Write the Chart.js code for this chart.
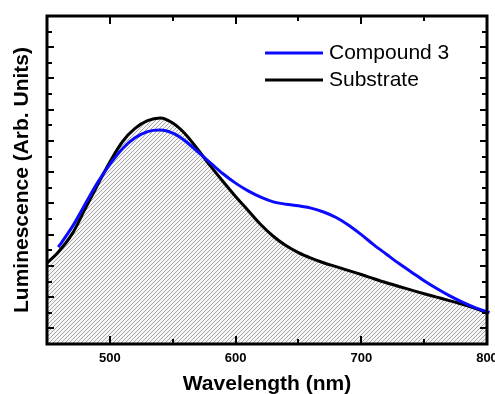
<!DOCTYPE html>
<html>
<head>
<meta charset="utf-8">
<script src="https://cdn.jsdelivr.net/npm/chart.js@4/dist/chart.umd.min.js"></script>
<style>
  html, body { margin: 0; padding: 0; background: #fff; }
</style>
</head>
<body>
<canvas id="chart" width="495" height="394"></canvas>
<script>
// values (wavelength in nm, luminescence in arb. units)
const substrateWavelength = [450, 458, 470, 480, 490, 500, 510, 520, 530, 540, 550, 560, 570, 580, 590, 600, 610, 620, 630, 640, 650, 660, 670, 680, 690, 700, 710, 720, 730, 740, 750, 760, 770, 780, 790, 800];
const substrateValues = [5.2, 5.8, 7.05, 8.6, 10.15, 11.65, 12.95, 13.8, 14.3, 14.47, 14.15, 13.45, 12.45, 11.4, 10.4, 9.45, 8.55, 7.65, 6.9, 6.3, 5.85, 5.5, 5.2, 4.95, 4.7, 4.45, 4.18, 3.92, 3.68, 3.45, 3.22, 3.0, 2.78, 2.55, 2.3, 2.0];
const compoundWavelength = [459, 470, 480, 490, 500, 510, 520, 530, 540, 550, 560, 570, 580, 590, 600, 610, 620, 630, 640, 650, 660, 670, 680, 690, 700, 710, 720, 730, 740, 750, 760, 770, 780, 790, 802];
const compoundValues = [6.2, 7.5, 8.9, 10.3, 11.5, 12.5, 13.2, 13.6, 13.7, 13.5, 13.0, 12.3, 11.6, 10.9, 10.3, 9.8, 9.4, 9.1, 8.95, 8.85, 8.7, 8.45, 8.1, 7.6, 7.0, 6.35, 5.75, 5.15, 4.6, 4.05, 3.55, 3.1, 2.7, 2.35, 2.0];
const seriesLabels = ['Compound 3', 'Substrate'];
const xTickLabels = [500, 600, 700, 800];

const toPoints = (xs, ys) => xs.map((x, i) => ({ x: x, y: ys[i] }));

// diagonal hatch for the substrate area
function makeHatch() {
  const c = document.createElement('canvas');
  c.width = 4;
  c.height = 4;
  const g = c.getContext('2d');
  g.fillStyle = '#f6f6f6';
  g.fillRect(0, 0, 4, 4);
  g.fillStyle = '#a6a6a6';
  for (let i = 0; i < 4; i++) g.fillRect(i, 3 - i, 1, 1);
  return g.createPattern(c, 'repeat');
}

// frame, inward ticks and legend
const framePlugin = {
  id: 'frame',
  afterDraw(chart) {
    const ctx = chart.ctx;
    const a = chart.chartArea;
    const xs = chart.scales.x;
    const ys = chart.scales.y;
    ctx.save();
    ctx.strokeStyle = '#000';
    ctx.lineWidth = 2;
    xs.ticks.forEach(t => {
      if (t.value <= xs.min || t.value >= xs.max) return;
      const px = Math.round(xs.getPixelForValue(t.value));
      const len = t.value % 100 === 0 ? 8 : 5;
      ctx.beginPath();
      ctx.moveTo(px, a.bottom); ctx.lineTo(px, a.bottom - len);
      ctx.moveTo(px, a.top); ctx.lineTo(px, a.top + len);
      ctx.stroke();
    });
    ys.ticks.forEach(t => {
      if (t.value <= ys.min || t.value >= ys.max) return;
      const py = Math.round(ys.getPixelForValue(t.value));
      const len = t.value % 2 === 1 ? 7 : 5;
      ctx.beginPath();
      ctx.moveTo(a.left, py); ctx.lineTo(a.left + len, py);
      ctx.moveTo(a.right, py); ctx.lineTo(a.right - len, py);
      ctx.stroke();
    });
    ctx.lineWidth = 3;
    ctx.strokeRect(a.left, a.top, a.right - a.left, a.bottom - a.top);

    // legend
    ctx.font = '21px Arial, "Liberation Sans", sans-serif';
    ctx.textBaseline = 'middle';
    ctx.fillStyle = '#000';
    [0, 1].forEach(i => {
      const ds = chart.data.datasets[i];
      const y = 53 + i * 27;
      ctx.strokeStyle = ds.borderColor;
      ctx.lineWidth = 3;
      ctx.beginPath();
      ctx.moveTo(265, y); ctx.lineTo(323, y);
      ctx.stroke();
      ctx.fillText(ds.label, 329, y);
    });
    ctx.restore();
  }
};

const ctx = document.getElementById('chart').getContext('2d');
new Chart(ctx, {
  type: 'line',
  data: {
    datasets: [
      {
        label: seriesLabels[0],
        data: toPoints(compoundWavelength, compoundValues),
        borderColor: '#0a0aff',
        borderWidth: 3,
        pointRadius: 0,
        fill: false,
        cubicInterpolationMode: 'monotone',
        clip: 4,
      },
      {
        label: seriesLabels[1],
        data: toPoints(substrateWavelength, substrateValues),
        borderColor: '#000',
        borderWidth: 3,
        pointRadius: 0,
        fill: 'origin',
        backgroundColor: makeHatch(),
        cubicInterpolationMode: 'monotone',
      },
    ],
  },
  options: {
    responsive: false,
    animation: false,
    layout: { padding: { left: 12, top: 16, right: 8, bottom: 0 } },
    scales: {
      x: {
        type: 'linear',
        min: 450,
        max: 800,
        grid: { display: false, drawTicks: false },
        border: { display: false },
        ticks: {
          stepSize: 50,
          padding: 7,
          maxRotation: 0,
          autoSkip: false,
          color: '#000',
          font: { family: 'Arial, "Liberation Sans", sans-serif', size: 13, weight: 'bold' },
          callback: v => (xTickLabels.includes(v) ? String(v) : ''),
        },
        title: {
          display: true,
          text: 'Wavelength (nm)',
          color: '#000',
          padding: { top: 0, bottom: -1 },
          font: { family: 'Arial, "Liberation Sans", sans-serif', size: 21, weight: 'bold', lineHeight: 1 },
        },
        afterFit: s => { s.height = 50; s.paddingLeft = 0; s.paddingRight = 0; },
      },
      y: {
        min: 0,
        max: 21,
        grid: { display: false, drawTicks: false },
        border: { display: false },
        ticks: { stepSize: 1, display: false },
        title: {
          display: true,
          text: 'Luminescence (Arb. Units)',
          color: '#000',
          padding: 0,
          font: { family: 'Arial, "Liberation Sans", sans-serif', size: 21, weight: 'bold', lineHeight: 1 },
        },
        afterFit: s => { s.width = 35; },
      },
    },
    plugins: {
      legend: { display: false },
      tooltip: { enabled: false },
    },
  },
  plugins: [framePlugin],
});
</script>
</body>
</html>
